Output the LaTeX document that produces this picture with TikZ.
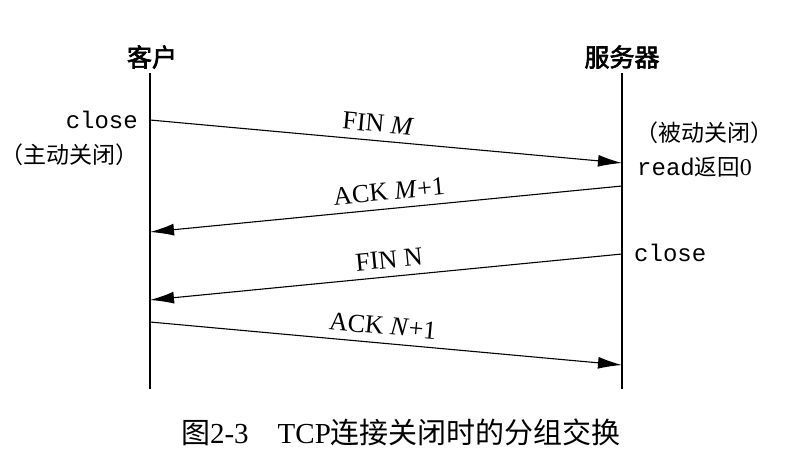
\documentclass[tikz,border=0pt]{standalone}
\usepackage{fontspec}
\setmainfont{Liberation Serif}
\setmonofont{Liberation Mono}
\newfontfamily\cjk{Noto Sans CJK SC}
\newfontfamily\cjkbold{Noto Sans CJK SC}[FakeBold=2.5]
\usetikzlibrary{arrows.meta}
\begin{document}
\begin{tikzpicture}[x=1pt,y=-1pt,
  lifeline/.style={line width=1.2pt},
  msg/.style={line width=1.1pt,-{Latex[length=24pt,width=12pt]}},
  msglabel/.style={sloped,above=7pt,font=\fontsize{26}{28}\selectfont,inner sep=1pt},
  header/.style={font=\cjkbold\fontsize{25}{27}\selectfont},
  note/.style={font=\fontsize{24}{26}\selectfont,inner sep=0pt},
  cnote/.style={font=\cjk\fontsize{23}{25}\selectfont,inner sep=0pt}]
\useasboundingbox (0,0) rectangle (786,458);
% headers
\node[header] (client) at (152,57) {客户};
\node[header] (server) at (622,57) {服务器};
% lifelines
\coordinate (ctop) at (150,73);
\coordinate (cbot) at (150,389);
\coordinate (stop) at (622,73);
\coordinate (sbot) at (622,389);
\draw[lifeline] (ctop) -- (cbot);
\draw[lifeline] (stop) -- (sbot);
% message end points
\coordinate (c1) at (150,120);
\coordinate (s1) at (622,163);
\coordinate (s2) at (622,186);
\coordinate (c2) at (150,232);
\coordinate (s3) at (622,254);
\coordinate (c3) at (150,300);
\coordinate (c4) at (150,322);
\coordinate (s4) at (622,365);
% messages
\draw[msg] (c1) -- node[msglabel,pos=0.48] {FIN \textit{M}} (s1);
\draw[msg] (s2) -- node[msglabel,pos=0.49] {ACK \textit{M}+1} (c2);
\draw[msg] (s3) -- node[msglabel,pos=0.49] {FIN N} (c3);
\draw[msg] (c4) -- node[msglabel,pos=0.49] {ACK \textit{N}+1} (s4);
% side notes
\node[note,anchor=east] (cclose) at (138,120) {\ttfamily close};
\node[cnote,anchor=east] (cactive) at (139,155) {（主动关闭）};
\node[cnote,anchor=west] (spassive) at (635,133) {（被动关闭）};
\node[note,anchor=west] (sread) at (637,167) {\ttfamily read\cjk\fontsize{22.5}{24}\selectfont 返回\rmfamily\fontsize{24}{26}\selectfont 0};
\node[note,anchor=west] (sclose) at (634,253) {\ttfamily close};
% caption
\node[font=\fontsize{29}{31}\selectfont] (caption) at (401,432) {{\cjk 图}2-3\hspace{29pt}TCP{\cjk 连接关闭时的分组交换}};
\end{tikzpicture}
\end{document}
